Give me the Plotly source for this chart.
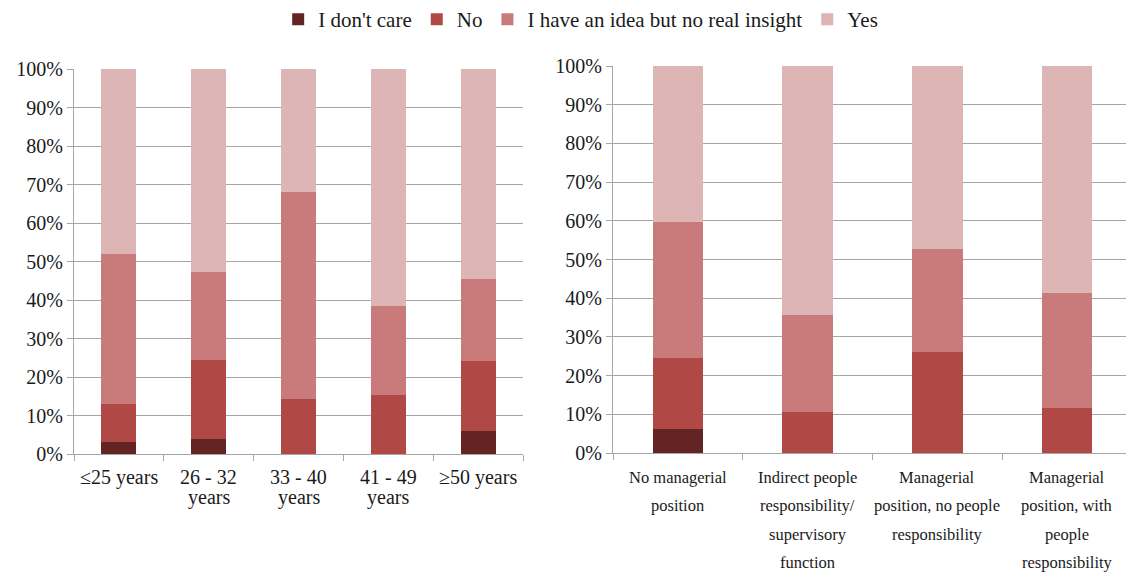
import plotly.graph_objects as go
from plotly.subplots import make_subplots

# categories
age_groups = ["≤25 years", "26 - 32|years", "33 - 40|years", "41 - 49|years", "≥50 years"]
positions = [
    "No managerial|position",
    "Indirect people|responsibility/|supervisory|function",
    "Managerial|position, no people|responsibility",
    "Managerial|position, with|people|responsibility",
]
age_keys = ["a1", "a2", "a3", "a4", "a5"]
position_keys = ["p1", "p2", "p3", "p4"]

series = ["I don't care", "No", "I have an idea but no real insight", "Yes"]
colors = ["#632423", "#B04946", "#C87B7A", "#DEB5B5"]

# values (%)
age_dont_care = [3.2, 3.8, 0.0, 0.0, 6.0]
age_no = [9.7, 20.6, 14.3, 15.4, 18.2]
age_idea = [39.0, 23.0, 53.7, 23.0, 21.2]
age_yes = [48.1, 52.6, 32.0, 61.6, 54.6]

pos_dont_care = [6.3, 0.0, 0.0, 0.0]
pos_no = [18.3, 10.6, 26.1, 11.6]
pos_idea = [35.1, 25.0, 26.5, 29.7]
pos_yes = [40.3, 64.4, 47.4, 58.7]

age_data = [age_dont_care, age_no, age_idea, age_yes]
pos_data = [pos_dont_care, pos_no, pos_idea, pos_yes]

W, H = 1134, 572
OFF = 8  # page body margin: figure is drawn 8px right/down
FONT = "Liberation Serif"
GRID = "#A6A6A6"
TXT = "#1a1a1a"


def px(x):
    return (x - OFF) / W


def py(y):
    return (H - (y - OFF)) / H


fig = make_subplots(rows=1, cols=2)

for name, col, a, p in zip(series, colors, age_data, pos_data):
    fig.add_trace(go.Bar(name=name, x=age_keys, y=a, marker=dict(color=col, line=dict(width=0)),
                         showlegend=True), row=1, col=1)
    fig.add_trace(go.Bar(name=name, x=position_keys, y=p, marker=dict(color=col, line=dict(width=0)),
                         showlegend=False), row=1, col=2)

yax = dict(range=[0, 100], tickvals=list(range(0, 101, 10)),
           ticktext=[f"{v}%" for v in range(0, 101, 10)],
           showgrid=True, gridcolor=GRID, gridwidth=1,
           showline=True, linecolor=GRID, linewidth=1,
           ticks="outside", ticklen=6, tickcolor=GRID,
           tickfont=dict(family=FONT, size=20, color=TXT), zeroline=False)
xax = dict(showline=True, linecolor=GRID, linewidth=1, ticks="outside", ticklen=6,
           tickcolor=GRID, tickson="boundaries", showgrid=False, showticklabels=False)

fig.update_layout(
    width=W, height=H,
    margin=dict(l=0, r=0, t=0, b=0, autoexpand=False),
    paper_bgcolor="white", plot_bgcolor="white",
    barmode="stack", bargap=0.61,
    font=dict(family=FONT, color=TXT),
    legend=dict(orientation="h", x=0.505, xanchor="center", y=1.0157, yanchor="top",
                font=dict(family=FONT, size=21, color=TXT), traceorder="normal",
                itemwidth=30),
    xaxis=dict(domain=[px(74), px(523)], **xax),
    xaxis2=dict(domain=[px(613), px(1132)], **xax),
    yaxis=dict(domain=[py(454), py(69)], **yax),
    yaxis2=dict(domain=[py(453), py(66)], **yax),
)

# multi-line category labels (line spacing as in the original)
for xref, keys, labels, size, step in [("x", age_keys, age_groups, 20, 20),
                                       ("x2", position_keys, positions, 16.5, 28.5)]:
    for key, label in zip(keys, labels):
        for i, line in enumerate(label.split("|")):
            fig.add_annotation(x=key, xref=xref, y=py(477 + i * step), yref="paper",
                               text=line, showarrow=False, yanchor="middle",
                               font=dict(family=FONT, size=size, color=TXT))

fig.write_html("out.html")
